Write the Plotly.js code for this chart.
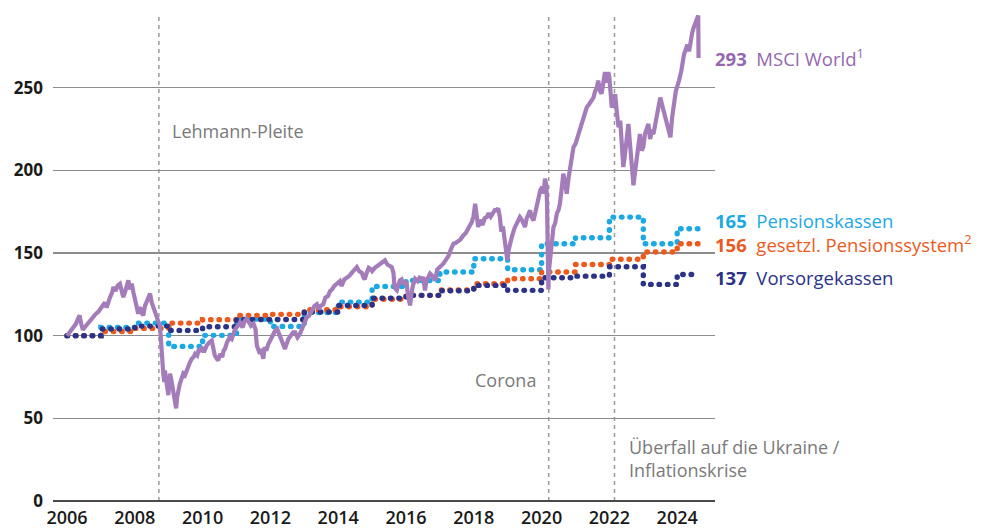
<!DOCTYPE html>
<html>
<head>
<meta charset="utf-8">
<script src="https://cdn.plot.ly/plotly-3.0.1.min.js"></script>
<style>
  html, body { margin: 0; padding: 0; background: #fff; }
  #chart { width: 985px; height: 529px; }
</style>
</head>
<body>
<div id="chart"></div>
<script>
// ---- Data (index, 2006 = 100) ----
// MSCI World: time in decimal years and index values
const msciT = [2006.00,2006.06,2006.12,2006.19,2006.26,2006.32,2006.37,2006.42,2006.47,2006.52,2006.58,2006.63,2006.70,2006.76,2006.84,2006.92,2006.98,
2007.05,2007.12,2007.17,2007.22,2007.27,2007.33,2007.37,2007.43,2007.50,2007.56,2007.60,2007.66,2007.72,2007.77,2007.81,2007.86,2007.91,2007.96,
2008.00,2008.05,2008.10,2008.15,2008.20,2008.25,2008.30,2008.37,2008.45,2008.50,2008.55,2008.60,2008.65,2008.70,2008.74,2008.77,2008.79,2008.82,2008.84,2008.87,2008.89,2008.92,2008.94,2008.97,2008.99,
2009.02,2009.04,2009.08,2009.12,2009.16,2009.20,2009.22,2009.25,2009.29,2009.33,2009.38,2009.43,2009.48,2009.53,2009.58,2009.63,2009.68,2009.73,2009.78,2009.84,2009.88,2009.92,2009.97,
2010.04,2010.08,2010.12,2010.20,2010.27,2010.31,2010.36,2010.42,2010.46,2010.52,2010.58,2010.62,2010.66,2010.72,2010.80,2010.86,2010.90,2010.96,
2011.04,2011.10,2011.18,2011.24,2011.30,2011.36,2011.43,2011.50,2011.56,2011.60,2011.64,2011.69,2011.72,2011.76,2011.79,2011.83,2011.88,2011.94,2011.99,
2012.06,2012.14,2012.20,2012.28,2012.34,2012.40,2012.43,2012.48,2012.53,2012.60,2012.67,2012.73,2012.80,2012.87,2012.95,
2013.02,2013.07,2013.14,2013.22,2013.30,2013.37,2013.43,2013.48,2013.56,2013.62,2013.70,2013.76,2013.82,2013.88,2013.95,
2014.05,2014.10,2014.18,2014.25,2014.32,2014.40,2014.50,2014.55,2014.62,2014.70,2014.74,2014.78,2014.84,2014.90,2014.94,
2015.00,2015.08,2015.15,2015.23,2015.30,2015.38,2015.45,2015.52,2015.58,2015.63,2015.66,2015.70,2015.73,2015.78,2015.82,2015.87,2015.92,2015.97,
2016.02,2016.06,2016.10,2016.12,2016.16,2016.20,2016.27,2016.34,2016.40,2016.47,2016.51,2016.54,2016.56,2016.60,2016.66,2016.71,2016.78,2016.82,2016.86,2016.92,2016.98,
2017.05,2017.10,2017.18,2017.25,2017.32,2017.40,2017.46,2017.52,2017.60,2017.69,2017.76,2017.84,2017.90,2017.94,2017.99,
2018.04,2018.07,2018.10,2018.13,2018.18,2018.22,2018.26,2018.32,2018.38,2018.44,2018.50,2018.56,2018.62,2018.67,2018.72,2018.77,2018.81,2018.86,2018.90,2018.92,2018.96,2018.99,
2019.03,2019.08,2019.12,2019.20,2019.28,2019.36,2019.42,2019.48,2019.51,2019.56,2019.62,2019.66,2019.70,2019.76,2019.82,2019.88,2019.96,
2020.02,2020.06,2020.10,2020.14,2020.16,2020.18,2020.20,2020.22,2020.26,2020.30,2020.35,2020.40,2020.45,2020.50,2020.54,2020.60,2020.64,2020.70,2020.74,2020.80,2020.84,2020.90,2020.94,
2021.00,2021.06,2021.13,2021.20,2021.27,2021.33,2021.40,2021.46,2021.53,2021.58,2021.63,2021.67,2021.72,2021.77,2021.82,2021.87,2021.91,2021.94,2021.97,
2022.00,2022.04,2022.07,2022.12,2022.17,2022.22,2022.27,2022.32,2022.36,2022.41,2022.45,2022.50,2022.56,2022.60,2022.64,2022.68,2022.71,2022.75,2022.80,2022.85,2022.90,2022.95,
2023.00,2023.05,2023.10,2023.15,2023.20,2023.25,2023.30,2023.36,2023.42,2023.46,2023.50,2023.55,2023.60,2023.65,2023.70,2023.75,2023.80,2023.85,2023.90,2023.96,
2024.05,2024.12,2024.20,2024.26,2024.30,2024.35,2024.39,2024.44,2024.49,2024.54,2024.58,2024.62,2024.63];
const msciV = [100,101.5,103,104.5,107,110,112.3,107,103.5,105,106.5,108,110,111,113,114.3,116,
118,120,117,121,123.3,126,129.4,127,130.5,131.4,127,123.3,127,130,133.4,128,131.4,126,
123.3,118,113.3,117.3,114,112.3,118,122,125.4,120,116.3,113,111.2,108,106.2,98,89.1,82,77,72,79,74,71,67,64,
72,77,73,68,63,58,56,63,68,71,74,77,76,79,82,84,86,87,89,88,91,91,93,
90,92,94,96,97,93,88,86,85,89,87,91,92,96,99,98,101,104,
106,108,105,109,110.3,108,106,107.3,104,94,91,89,92,88,86,93,91,95,97,
101,103,104,100,98,94,92,95,98,100,102,102,99,101,105,
109,111,112,115,118,119,116,118,119,123,124,127,128,130,131,
133,130,134,135,136,138,140.5,141.5,139,138,135.4,134,138,141,140.5,
139,141,142,143.5,144,145.5,143,142,141.5,138,130,128,127.4,131,133.4,134,131,133,
131.4,124,120,118.3,125,130,134.4,133,135,134,135.4,129,127.4,133,136,137.5,136,134,133.4,140,141,
142,143.5,146,148,152,155.6,156,157,158,160.6,162,165,167,168.7,172,
179.8,175,168,165.7,170,168,167,171,171.7,174,172,174,176,175.8,177,171.7,163,166,160,155.6,150,145.5,
152,157,159.6,165,169,171.7,170,166,165.7,171,174,175.8,172,169.7,175,181,187.9,
190,186,195,191,180,150,128,140,150,158,165.7,168,174,176,179.8,190,198,192,185.9,196,202,208,214,
216,220,226,230,234,238,240,242,244,248,250,254.3,248,246.3,255,259.4,253,258,259.4,
256,245,238,241,246,235,226,230,214,202,208,216,228,218,205,198,190.9,198,207,218,222,212,
214,222,226,228,219,223,222,228,233,238,244,240,236,234,228,224,220,232,242,248,
254,260,270,274,276,272,278.5,283,286.6,290,292.6,293.6,268];

// Annual step series (value valid from start of each year)
const stepYears = [2006,2007,2008,2009,2010,2011,2012,2013,2014,2015,2016,2017,2018,2019,2020,2021,2022,2023,2024];
const seriesEnd = 2024.62;
const pensionskassen = [100,105,107.6,93.5,100.2,110,105.6,114,120.3,129.8,133.4,138.5,146.5,139.9,155.6,159.2,171.7,155.6,164.7];
const gesetzlPension = [100,102.5,104.4,107.6,109.7,112.3,112.9,115.7,117.5,122,124.4,127.6,131.4,134.4,138.5,143,146.2,150.6,155.6];
const vorsorgekassen = [100,104,105.8,103.2,105.4,109.8,109.8,114.3,118.3,122.7,124.4,127.2,130.4,127.4,135,136,141.7,131,137];

// Events (decimal years)
const eventDates = [2008.71, 2020.21, 2022.15];
const eventTop = 293.6;
const eventLabels = ["Lehmann-Pleite", "Corona", "Überfall auf die Ukraine /<br>Inflationskrise"];

// End labels
const endValues = ["293", "165", "156", "137"];
const endNames = ["MSCI World<sup>1</sup>", "Pensionskassen", "gesetzl. Pensionssystem<sup>2</sup>", "Vorsorgekassen"];

// Tick labels
const yTicks = [0, 50, 100, 150, 200, 250];
const xTicks = [2006,2008,2010,2012,2014,2016,2018,2020,2022,2024];

// ---- Styles ----
const cPurple = '#a47cba', cPurpleText = '#9468ae';
const cLight = '#1ba8e3', cOrange = '#eb5b1e', cNavy = '#2c3387';

function stepTrace(vals, color) {
  return {
    x: stepYears.concat([seriesEnd]),
    y: vals.concat([vals[vals.length - 1]]),
    type: 'scatter', mode: 'lines',
    line: { color: color, width: 5.4, shape: 'hv', dash: '0.5px,7.9px' },
    hoverinfo: 'skip'
  };
}

const traces = [
  stepTrace(pensionskassen, cLight),
  stepTrace(gesetzlPension, cOrange),
  stepTrace(vorsorgekassen, cNavy),
  { x: msciT, y: msciV, type: 'scatter', mode: 'lines',
    line: { color: cPurple, width: 4.2 }, hoverinfo: 'skip' }
];

const shapes = eventDates.map(d => ({
  type: 'line', xref: 'x', yref: 'y', x0: d, x1: d, y0: 0, y1: eventTop,
  line: { color: '#9a9a9a', width: 1.5, dash: '4px,4px' }, layer: 'below'
}));

const grayFont = { family: 'Open Sans, sans-serif', size: 18, color: '#7a7a7a', weight: 500 };
const annotations = [
  { xref: 'x', yref: 'y', x: eventDates[0], y: 224, text: eventLabels[0], showarrow: false,
    xanchor: 'left', yanchor: 'middle', xshift: 11, font: grayFont },
  { xref: 'x', yref: 'y', x: eventDates[1], y: 73, text: eventLabels[1], showarrow: false,
    xanchor: 'right', yanchor: 'middle', xshift: -11, font: grayFont },
  { xref: 'x', yref: 'y', x: eventDates[2], y: 26, text: eventLabels[2], showarrow: false,
    xanchor: 'left', yanchor: 'middle', align: 'left', xshift: 13, font: grayFont }
];
const endColors = [cPurpleText, cLight, cOrange, cNavy];
const endY = [268.3, 169.6, 155.8, 135.3];
for (let i = 0; i < endValues.length; i++) {
  annotations.push({
    xref: 'paper', yref: 'y', x: 1, y: endY[i], xanchor: 'left', yanchor: 'middle', xshift: -2,
    showarrow: false, align: 'left',
    text: '<b>' + endValues[i] + '</b>&nbsp;&nbsp;' + endNames[i],
    font: { family: 'Open Sans, sans-serif', size: 18.5, color: endColors[i], weight: 500 }
  });
}

const layout = {
  width: 985, height: 529,
  margin: { l: 53, r: 270, t: 5, b: 28, pad: 0 },
  paper_bgcolor: '#fff', plot_bgcolor: '#fff',
  showlegend: false, hovermode: false,
  xaxis: {
    range: [2005.587, 2025.115], tickvals: xTicks, ticktext: xTicks.map(String),
    showgrid: false, zeroline: false, showline: false, ticks: '',
    tickfont: { family: 'Open Sans, sans-serif', size: 18, color: '#1a1a1a', weight: 600 },
    ticklabelstandoff: 4
  },
  yaxis: {
    range: [0, 300], tickvals: yTicks, ticktext: yTicks.map(String),
    showgrid: true, gridcolor: '#8c8c8c', gridwidth: 1.4,
    zeroline: true, zerolinecolor: '#4a4a4a', zerolinewidth: 2,
    showline: false, ticks: '',
    tickfont: { family: 'Open Sans, sans-serif', size: 17, color: '#1a1a1a', weight: 700 },
    ticklabelstandoff: 9
  },
  shapes: shapes,
  annotations: annotations
};

Plotly.newPlot('chart', traces, layout, { staticPlot: true, displayModeBar: false }).then(() => {
  document.querySelectorAll('.scatterlayer .js-line').forEach(p => {
    if (p.style.strokeDasharray && p.style.strokeDasharray !== 'none') p.style.strokeLinecap = 'round';
  });
});
</script>
</body>
</html>
